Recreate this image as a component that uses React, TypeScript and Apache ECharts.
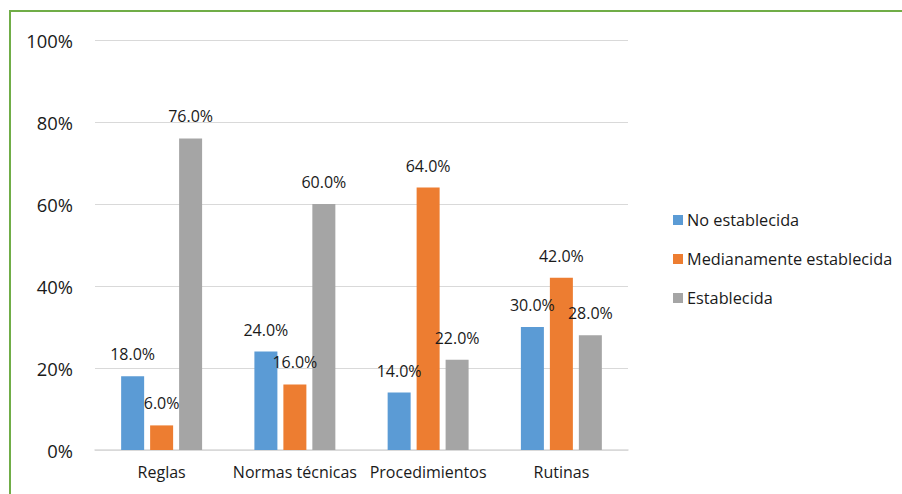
import React, { useEffect, useRef } from "react";
import * as echarts from "echarts";

const categories = ["Reglas", "Normas técnicas", "Procedimientos", "Rutinas"];
const seriesNames = ["No establecida", "Medianamente establecida", "Establecida"];
const noEstablecida = [18, 24, 14, 30];
const medianamente = [6, 16, 64, 42];
const establecida = [76, 60, 22, 28];
const colors = ["#5B9BD5", "#ED7D31", "#A5A5A5"];

const FONT = "Open Sans";

export default function App() {
  const ref = useRef<HTMLDivElement>(null);
  useEffect(() => {
    if (!ref.current) return;
    const chart = echarts.init(ref.current, undefined, { renderer: "svg" });
    const values = [noEstablecida, medianamente, establecida];
    chart.setOption({
      animation: false,
      backgroundColor: "#ffffff",
      textStyle: { fontFamily: FONT },
      grid: { left: 95, right: 274, top: 40, bottom: 44, containLabel: false },
      legend: {
        orient: "vertical",
        left: 668,
        top: 205,
        itemWidth: 10,
        itemHeight: 10,
        itemGap: 19,
        icon: "rect",
        data: seriesNames,
        textStyle: { fontFamily: FONT, fontSize: 16.3, color: "#1a1a1a", lineHeight: 20, padding: [0, 0, 0, -1] },
      },
      xAxis: {
        type: "category",
        data: categories,
        axisTick: { show: false },
        axisLine: { lineStyle: { color: "#D9D9D9", width: 1.5 } },
        axisLabel: { interval: 0, fontFamily: FONT, fontSize: 16, color: "#1a1a1a", margin: 14 },
      },
      yAxis: {
        type: "value",
        min: 0,
        max: 100,
        interval: 20,
        axisLine: { show: false },
        axisTick: { show: false },
        splitLine: { lineStyle: { color: "#D9D9D9", width: 1.2 } },
        axisLabel: { fontFamily: FONT, fontSize: 18.4, color: "#1a1a1a", margin: 22, formatter: "{value}%" },
      },
      series: values.map((v, i) => ({
        name: seriesNames[i],
        type: "bar",
        data: v,
        barWidth: 23,
        barGap: "26%",
        itemStyle: { color: colors[i] },
        label: {
          show: true,
          position: "top",
          distance: 14,
          fontFamily: FONT,
          fontSize: 16,
          color: "#1a1a1a",
          formatter: (p: any) => p.value.toFixed(1) + "%",
        },
      })),
      graphic: [
        { type: "line", shape: { x1: 10, y1: 10, x2: 10, y2: 494 }, style: { stroke: "#70AD47", lineWidth: 2 } },
        { type: "line", shape: { x1: 9, y1: 11, x2: 902, y2: 11 }, style: { stroke: "#70AD47", lineWidth: 2 } },
      ],
    });
    return () => chart.dispose();
  }, []);
  return (
    <div
      ref={ref}
      style={{ position: "fixed", left: 0, top: 0, width: 902, height: 494, background: "#fff" }}
    />
  );
}
